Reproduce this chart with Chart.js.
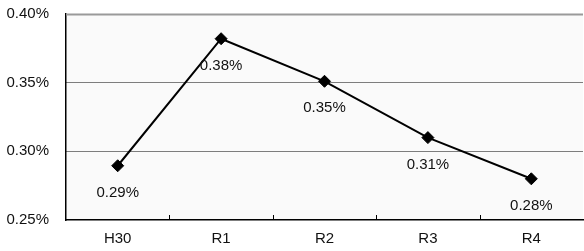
<!DOCTYPE html>
<html>
<head>
<meta charset="utf-8">
<script src="https://cdn.jsdelivr.net/npm/chart.js@4/dist/chart.umd.min.js"></script>
<style>
html,body{margin:0;padding:0;background:#fff;overflow:hidden;width:584px;height:251px;}
canvas{display:block;}
</style>
</head>
<body>
<canvas id="c" width="590" height="251"></canvas>
<script>
const categories = ['H30', 'R1', 'R2', 'R3', 'R4'];
const rates = [0.2895, 0.382, 0.351, 0.31, 0.28];
const yTicks = [0.25, 0.30, 0.35, 0.40];

const FONT = '"Liberation Sans", Arial, sans-serif';

const plotDecor = {
  id: 'plotDecor',
  beforeDraw(chart) {
    const {ctx, chartArea: a} = chart;
    ctx.save();
    ctx.fillStyle = '#fafafa';
    ctx.fillRect(a.left, a.top, a.right - a.left, a.bottom - a.top);
    ctx.restore();
  },
  afterDatasetsDraw(chart) {
    const {ctx, chartArea: a, scales} = chart;
    ctx.save();
    ctx.strokeStyle = '#9a9a9a';
    ctx.lineWidth = 2;
    ctx.beginPath();
    ctx.moveTo(a.left, a.top + 0.5);
    ctx.lineTo(a.right, a.top + 0.5);
    ctx.stroke();
    const xs = scales.x;
    ctx.strokeStyle = '#000';
    ctx.lineWidth = 1;
    for (let i = 0; i < categories.length - 1; i++) {
      const px = Math.round((xs.getPixelForValue(i) + xs.getPixelForValue(i + 1)) / 2) + 0.5;
      ctx.beginPath();
      ctx.moveTo(px, a.bottom - 5);
      ctx.lineTo(px, a.bottom);
      ctx.stroke();
    }
    const meta = chart.getDatasetMeta(0);
    ctx.fillStyle = '#111';
    ctx.font = '15px ' + FONT;
    ctx.textAlign = 'center';
    ctx.textBaseline = 'middle';
    meta.data.forEach((pt, i) => {
      ctx.fillText(rates[i].toFixed(2) + '%', pt.x, pt.y + 27);
    });
    ctx.restore();
  }
};

new Chart(document.getElementById('c'), {
  type: 'line',
  data: {
    labels: categories,
    datasets: [{
      data: rates,
      borderColor: '#000',
      borderWidth: 2,
      tension: 0,
      pointStyle: 'rectRot',
      pointRadius: 6,
      pointBackgroundColor: '#000',
      pointBorderColor: '#000',
      pointBorderWidth: 1,
      clip: false
    }]
  },
  options: {
    responsive: false,
    animation: false,
    events: [],
    layout: {padding: {top: 14, right: 2, left: 0, bottom: 0}},
    plugins: {legend: {display: false}, tooltip: {enabled: false}},
    scales: {
      x: {
        type: 'category',
        offset: true,
        grid: {display: false, drawTicks: false},
        border: {display: true, color: '#000', width: 1.5},
        ticks: {color: '#111', font: {family: FONT, size: 15}, padding: 10, maxRotation: 0},
        afterFit(s) { s.height = 31; s.paddingLeft = 0; s.paddingRight = 0; }
      },
      y: {
        min: 0.25,
        max: 0.40,
        afterBuildTicks(s) { s.ticks = yTicks.map(v => ({value: v})); },
        grid: {
          drawTicks: false,
          color: ctx => (ctx.tick && (Math.abs(ctx.tick.value - 0.30) < 1e-6 || Math.abs(ctx.tick.value - 0.35) < 1e-6)) ? '#000' : 'rgba(0,0,0,0)',
          lineWidth: 1
        },
        border: {display: true, color: '#000', width: 1.5, dash: [1, 1]},
        ticks: {
          color: '#111',
          font: {family: FONT, size: 15},
          padding: 17,
          callback: v => Number(v).toFixed(2) + '%'
        },
        afterFit(s) { s.width = 66; s.paddingTop = 0; s.paddingBottom = 0; }
      }
    }
  },
  plugins: [plotDecor]
});
</script>
</body>
</html>
